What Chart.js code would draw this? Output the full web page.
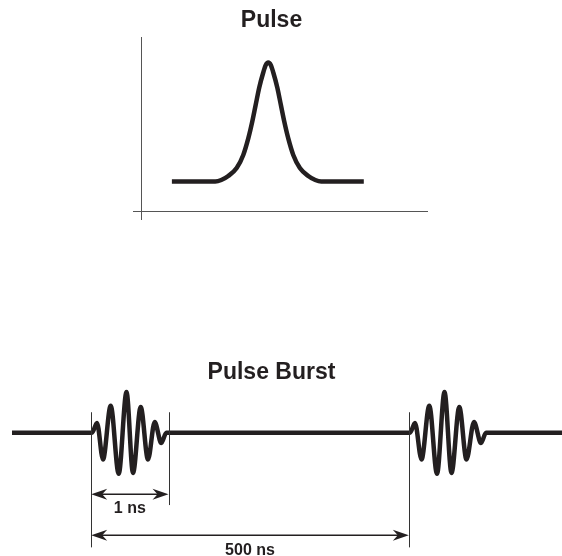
<!DOCTYPE html>
<html>
<head>
<meta charset="utf-8">
<script src="https://cdn.jsdelivr.net/npm/chart.js"></script>
<style>
    body { margin: 0; background: #fff; }
    .wrap { position: relative; width: 562px; height: 556px; }
    canvas { position: absolute; left: 0; }
    #pulse__chart { top: 0; }
    #burst__chart { top: 340px; }
</style>
</head>
<body>
<div class="wrap">
    <canvas id="pulse__chart" width="562" height="240"></canvas>
    <canvas id="burst__chart" width="562" height="216"></canvas>
</div>
<script>
// single pulse (arbitrary time units, peak at 0)
const pulseTime = [-33.7, -18.53, -16.43, -13.99, -11.05, -8.74, -6.99, -5.59, -4.41, -3.15, -1.75, -0.87, 0,
    0.87, 1.75, 3.15, 4.41, 5.59, 6.99, 8.74, 11.05, 13.99, 16.43, 18.53, 33.4];
const pulseLevel = [16.95, 16.95, 17.8, 20.1, 24.7, 32.2, 41.7, 51.4, 60.9, 71.0, 79.6, 83.9, 85.3,
    83.9, 79.6, 71.0, 60.9, 51.4, 41.7, 32.2, 24.7, 20.1, 17.8, 16.95, 16.95];

// pulse burst (schematic time, not to scale)
const burstTime = [12, 92, 97, 103, 110.7, 118.7, 126.5, 133, 140.7, 148, 154.7, 161.3, 166.3,
    410, 415, 421.5, 429.3, 437, 444.5, 451.5, 459.3, 466.5, 474, 481, 486, 562];
const burstLevel = [0, 0, 0.24, -0.65, 0.66, -1.0, 0.99, -0.98, 0.63, -0.65, 0.26, -0.25, 0,
    0, 0.24, -0.65, 0.66, -1.0, 0.99, -0.98, 0.63, -0.65, 0.26, -0.25, 0, 0];

// dimension markers and spans
const markerTime = [90.7, 169, 409.3];
const markerTop = [0.5, 0.5, 0.5];
const markerBottom = [-2.79, -1.76, -2.79];
const spanLabel = ['1 ns', '500 ns'];
const spanFrom = [90.7, 90.7];
const spanTo = [169, 409.3];
const spanLevel = [-1.495, -2.495];
const spanLabelLevel = [-1.84, -2.86];

const ink = '#231f20';
const axisInk = '#555';

Chart.defaults.font.family = '"Liberation Sans", Arial, Helvetica, sans-serif';
Chart.defaults.color = ink;

const onlyMinTick = (axis) => {
    axis.ticks = [{ value: axis.min }];
};

const pulseChartEle = document.getElementById('pulse__chart');
const burstChartEle = document.getElementById('burst__chart');

const pulseChart = new Chart(pulseChartEle, {
    type: 'line',
    data: {
        datasets: [
            {
                data: pulseTime.map((t, i) => ({ x: t, y: pulseLevel[i] })),
                borderColor: ink,
                borderWidth: 4.5,
                pointRadius: 0,
                cubicInterpolationMode: 'monotone',
                fill: false,
            },
        ],
    },
    options: {
        responsive: false,
        animation: false,
        layout: { padding: { left: 116, right: 135, top: 0, bottom: 20 } },
        plugins: {
            legend: { display: false },
            tooltip: { enabled: false },
            title: {
                display: true,
                text: 'Pulse',
                color: ink,
                font: { size: 23, weight: 'bold', lineHeight: 1.2 },
                padding: { top: 6.7, bottom: 2.7 },
            },
        },
        scales: {
            x: {
                type: 'linear',
                min: -44.5,
                max: 55.5,
                afterBuildTicks: onlyMinTick,
                ticks: { display: false },
                grid: { drawOnChartArea: false, tickLength: 9, color: axisInk, lineWidth: 1 },
                border: { display: true, color: axisInk, width: 1 },
            },
            y: {
                min: 0,
                max: 100,
                afterBuildTicks: onlyMinTick,
                afterFit: (axis) => { axis.width = 25; },
                ticks: { display: false },
                grid: { drawOnChartArea: false, tickLength: 8, color: axisInk, lineWidth: 1 },
                border: { display: true, color: axisInk, width: 1 },
            },
        },
    },
});

const drawHead = (ctx, tipX, y, dir) => {
    ctx.beginPath();
    ctx.moveTo(tipX, y);
    ctx.lineTo(tipX - dir * 16, y - 5.5);
    ctx.lineTo(tipX - dir * 11, y);
    ctx.lineTo(tipX - dir * 16, y + 5.5);
    ctx.closePath();
    ctx.fill();
};

const dimensionPlugin = {
    id: 'dimensions',
    afterDatasetsDraw(chart) {
        const { ctx, scales: { x, y } } = chart;
        ctx.save();
        ctx.strokeStyle = '#333';
        ctx.lineWidth = 1;
        markerTime.forEach((t, i) => {
            const px = Math.round(x.getPixelForValue(t)) + 0.5;
            ctx.beginPath();
            ctx.moveTo(px, y.getPixelForValue(markerTop[i]));
            ctx.lineTo(px, y.getPixelForValue(markerBottom[i]));
            ctx.stroke();
        });
        ctx.strokeStyle = ink;
        ctx.fillStyle = ink;
        ctx.lineWidth = 1.5;
        spanLabel.forEach((label, i) => {
            const x1 = x.getPixelForValue(spanFrom[i]);
            const x2 = x.getPixelForValue(spanTo[i]);
            const py = y.getPixelForValue(spanLevel[i]);
            ctx.beginPath();
            ctx.moveTo(x1 + 10, py);
            ctx.lineTo(x2 - 10, py);
            ctx.stroke();
            drawHead(ctx, x1 + 0.5, py, -1);
            drawHead(ctx, x2 - 0.5, py, 1);
            ctx.font = 'bold 16px "Liberation Sans", Arial, sans-serif';
            ctx.textAlign = 'center';
            ctx.textBaseline = 'middle';
            ctx.fillText(label, (x1 + x2) / 2, y.getPixelForValue(spanLabelLevel[i]));
        });
        ctx.restore();
    },
};

const burstChart = new Chart(burstChartEle, {
    type: 'line',
    data: {
        datasets: [
            {
                data: burstTime.map((t, i) => ({ x: t, y: burstLevel[i] })),
                borderColor: ink,
                borderWidth: 4.5,
                pointRadius: 0,
                cubicInterpolationMode: 'monotone',
                fill: false,
                clip: false,
            },
        ],
    },
    options: {
        responsive: false,
        animation: false,
        layout: { padding: { left: 0, right: 19, top: 0, bottom: 0 } },
        plugins: {
            legend: { display: false },
            tooltip: { enabled: false },
            title: {
                display: true,
                text: 'Pulse Burst',
                color: ink,
                font: { size: 23, weight: 'bold', lineHeight: 1.2 },
                padding: { top: 18.7, bottom: 3.35 },
            },
        },
        scales: {
            x: { type: 'linear', min: 0, max: 543, display: false },
            y: { min: -3, max: 1.05, display: false },
        },
    },
    plugins: [dimensionPlugin],
});
</script>
</body>
</html>
